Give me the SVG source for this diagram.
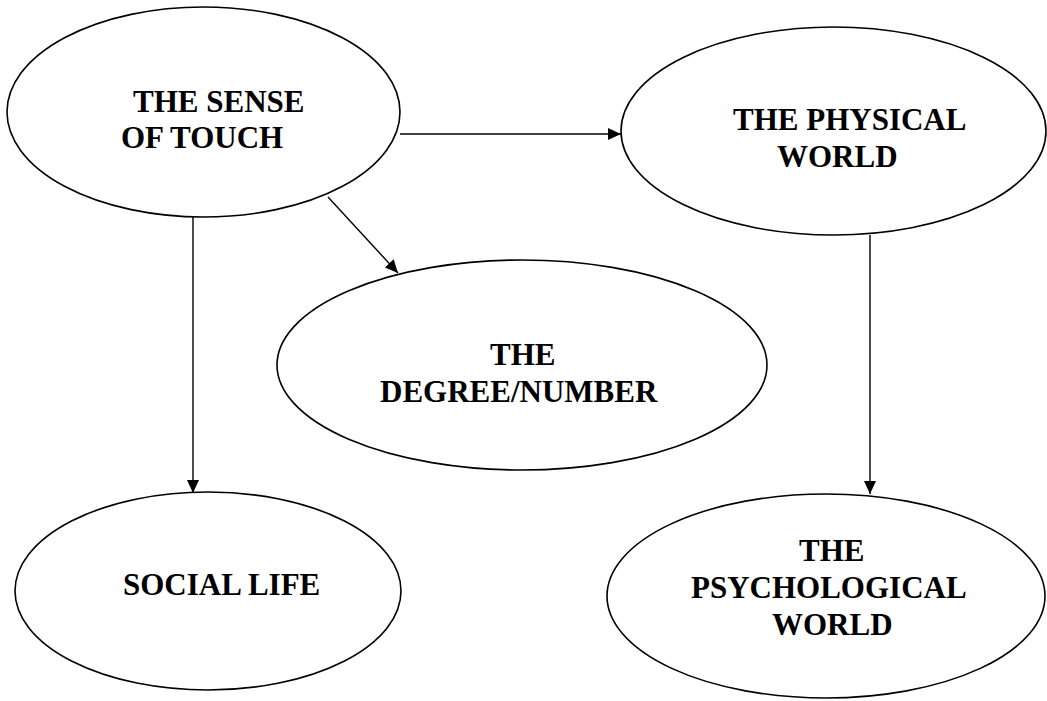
<svg xmlns="http://www.w3.org/2000/svg" width="1047" height="701" viewBox="0 0 1047 701">
<defs>
<style>
.node ellipse{fill:#fff;stroke:#000;stroke-width:1.6}
.node text{font-family:"Liberation Serif","Times New Roman",serif;font-weight:bold;font-size:31px;fill:#000}
.conn line{stroke:#000;stroke-width:1.4}
</style>
<marker id="arr" viewBox="0 0 13 12" refX="13" refY="6" markerWidth="13" markerHeight="12" markerUnits="userSpaceOnUse" orient="auto">
<path d="M0,0 L13,6 L0,12 Z" fill="#000"/>
</marker>
</defs>
<rect width="1047" height="701" fill="#fff"/>
<g id="connectors" class="conn">
<line x1="400" y1="134" x2="621" y2="134" marker-end="url(#arr)"/>
<line x1="193" y1="217" x2="193" y2="493" marker-end="url(#arr)"/>
<line x1="328" y1="197" x2="398" y2="273" marker-end="url(#arr)"/>
<line x1="870" y1="235" x2="870" y2="494" marker-end="url(#arr)"/>
</g>
<g id="touch" class="node">
<ellipse cx="203.5" cy="112" rx="196.5" ry="105"/>
<text x="133" y="112">THE SENSE</text>
<text x="121" y="148">OF TOUCH</text>
</g>
<g id="physical" class="node">
<ellipse cx="833.5" cy="131" rx="212.5" ry="104"/>
<text x="733" y="130">THE PHYSICAL</text>
<text x="777" y="167">WORLD</text>
</g>
<g id="degree" class="node">
<ellipse cx="522" cy="365" rx="245" ry="105"/>
<text x="490" y="365">THE</text>
<text x="380" y="402">DEGREE/NUMBER</text>
</g>
<g id="social" class="node">
<ellipse cx="208" cy="591" rx="193" ry="99"/>
<text x="123" y="595">SOCIAL LIFE</text>
</g>
<g id="psych" class="node">
<ellipse cx="826" cy="596" rx="219" ry="102"/>
<text x="799" y="561">THE</text>
<text x="691" y="598">PSYCHOLOGICAL</text>
<text x="772" y="635">WORLD</text>
</g>
</svg>
